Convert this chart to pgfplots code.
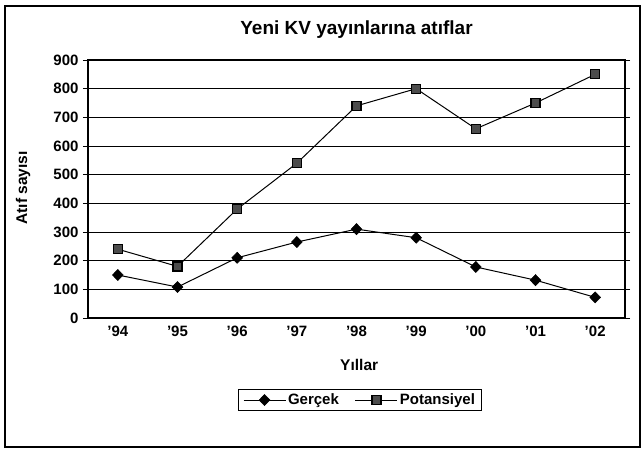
\documentclass[border=0pt]{standalone}
\usepackage{pgfplots}
\pgfplotsset{compat=1.18}
\usepackage{fontspec}
\setmainfont{Liberation Sans}
\begin{document}
\begin{tikzpicture}
\useasboundingbox (-88pt,-131pt) rectangle (556pt,318pt);
\begin{axis}[
  at={(0pt,0pt)}, anchor=south west,
  width=537pt, height=258pt, scale only axis,
  xmin=-0.5, xmax=8.5, ymin=0, ymax=900,
  xtick={0,1,2,3,4,5,6,7,8},
  xticklabels={'94,'95,'96,'97,'98,'99,'00,'01,'02},
  ytick={0,100,...,900},
  ymajorgrids,
  grid style={black, line width=0.9pt},
  axis line style={line width=1.4pt},
  tick align=outside,
  major tick length=5pt,
  xtick style={draw=none},
  ytick style={black, line width=0.9pt},
  /pgf/number format/assume math mode=true,
  ticklabel style={font=\bfseries\fontsize{15}{17}\selectfont},
  yticklabel style={xshift=-1pt},
  xticklabel style={yshift=1pt},
  title={Yeni KV yayınlarına atıflar},
  title style={font=\bfseries\fontsize{19}{22}\selectfont, at={(axis description cs:0.5,1.074)}, anchor=base},
  xlabel={Yıllar},
  xlabel style={font=\bfseries\fontsize{15.5}{17}\selectfont, at={(axis description cs:0.505,-0.182)}, anchor=center},
  ylabel={Atıf sayısı},
  ylabel style={font=\bfseries\fontsize{15.5}{17}\selectfont, at={(axis description cs:-0.121,0.504)}, anchor=center},
  legend columns=2,
  legend style={at={(axis description cs:0.5065,-0.318)}, anchor=center, draw=black, line width=1pt,
    font=\bfseries\fontsize{15}{17}\selectfont, inner xsep=5pt, inner ysep=2pt,
    /tikz/every even column/.append style={column sep=14pt}},
  legend image code/.code={\draw[mark repeat=2,mark phase=2,line width=1pt] plot coordinates {(0pt,0pt)(21pt,0pt)(42pt,0pt)};},
]
\addplot[black, line width=1pt, mark=diamond*, mark size=5.5pt, mark options={fill=black, line width=0.6pt, xscale=1.3}]
  coordinates {(0,150)(1,108)(2,210)(3,265)(4,310)(5,280)(6,178)(7,132)(8,72)};
\addlegendentry{Gerçek}
\addplot[black, line width=1pt, mark=square*, mark size=4.5pt, mark options={fill=black!70, draw=black, line width=1.2pt}]
  coordinates {(0,240)(1,180)(2,380)(3,540)(4,740)(5,800)(6,660)(7,750)(8,850)};
\addlegendentry{Potansiyel}
\end{axis}
\draw[line width=1.5pt] (-83pt,-129pt) rectangle (552pt,312pt);
\end{tikzpicture}
\end{document}
